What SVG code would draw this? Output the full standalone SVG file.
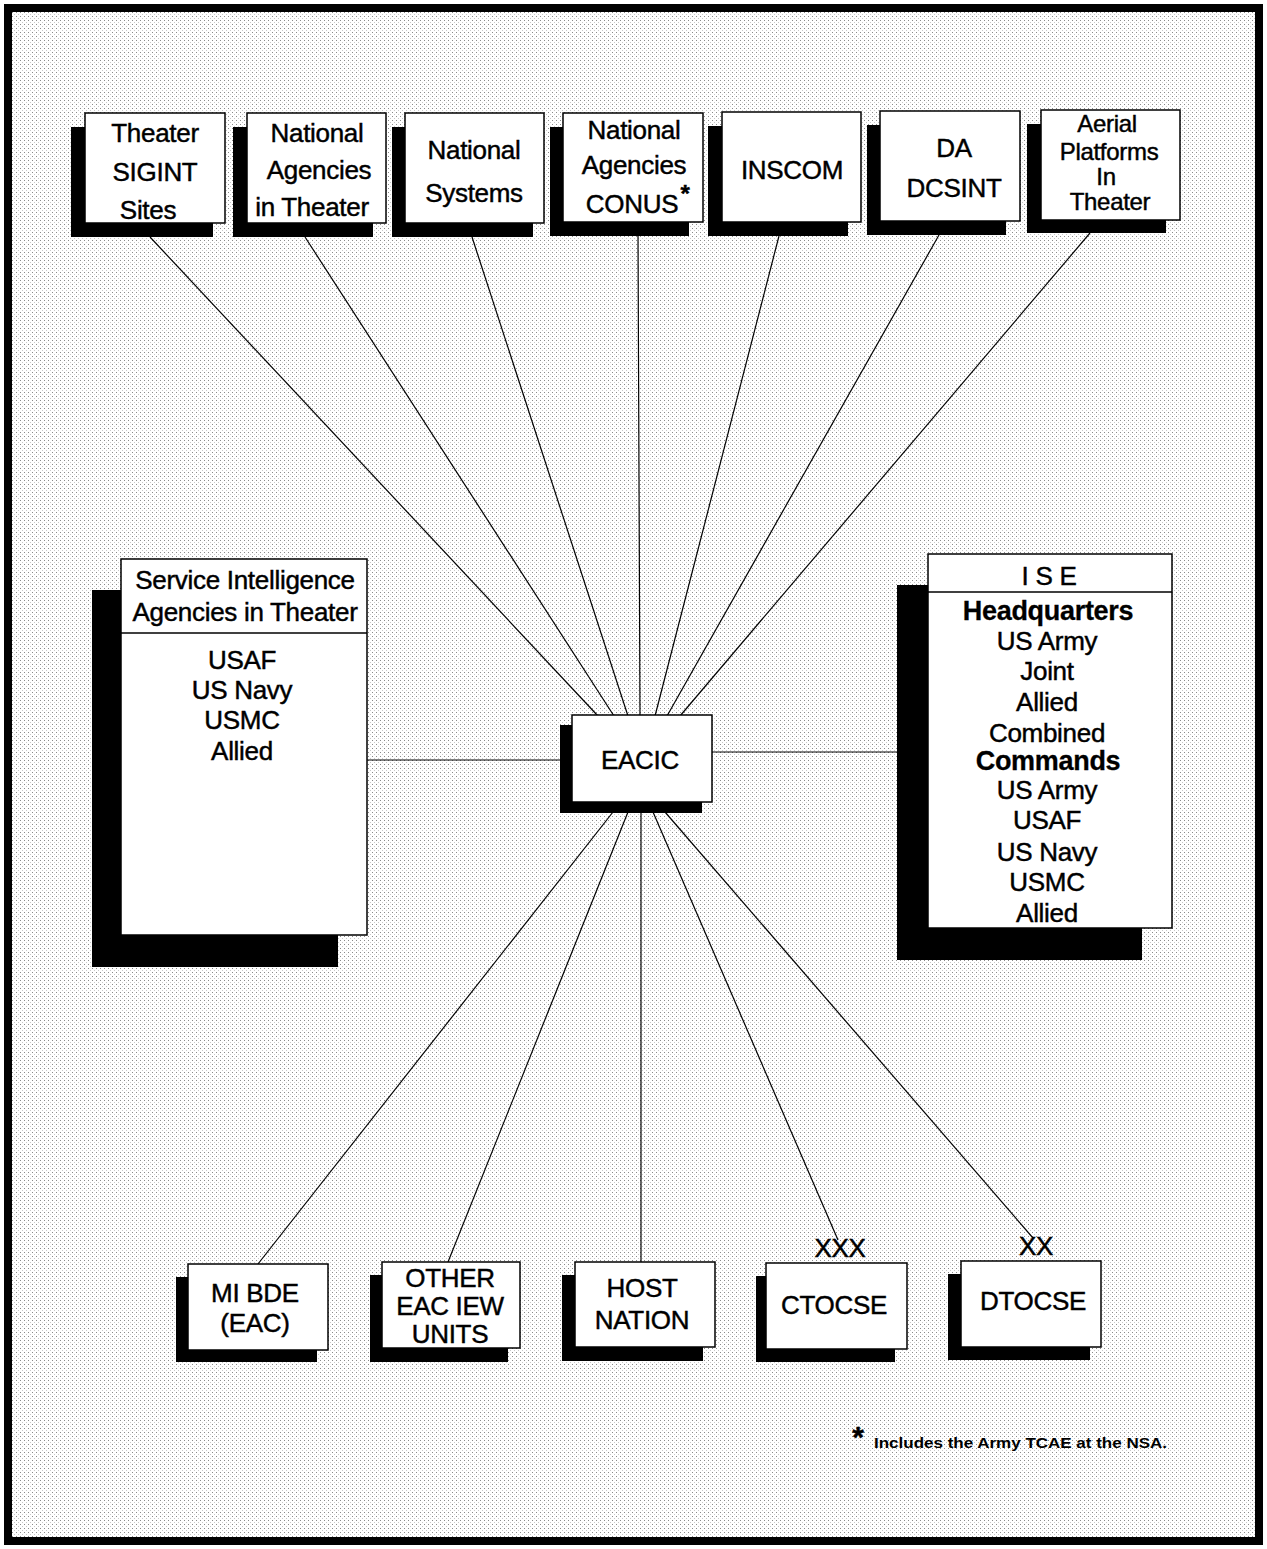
<svg xmlns="http://www.w3.org/2000/svg" width="1267" height="1549" viewBox="0 0 1267 1549">
<defs>
<pattern id="dots" width="4" height="4" patternUnits="userSpaceOnUse">
<rect width="4" height="4" fill="#ffffff"/>
<rect x="0" y="0" width="1" height="1" fill="#8a8a8a"/>
<rect x="2" y="2" width="1" height="1" fill="#c8c8c8"/>
</pattern>
</defs>
<style>
.sh{fill:#000}
.bx{fill:#fff;stroke:#000;stroke-width:1.5}
.t{font-family:"Liberation Sans",Arial,Helvetica,sans-serif;font-size:26px;fill:#000;stroke:#000;stroke-width:0.45;text-anchor:middle;letter-spacing:-0.3px}
.b{font-weight:bold;font-size:27px;stroke-width:0.3}
.a{font-size:24px}
.c line{stroke:#000;stroke-width:1.2}
</style>
<rect x="0" y="0" width="1267" height="1549" fill="#fff"/>
<rect x="8" y="8" width="1251" height="1533" fill="url(#dots)" stroke="#000" stroke-width="8"/>

<g id="connectors" class="c">
<line x1="150" y1="237" x2="598" y2="716"/>
<line x1="305" y1="237" x2="614" y2="716"/>
<line x1="472" y1="237" x2="628" y2="716"/>
<line x1="638" y1="236" x2="640" y2="716"/>
<line x1="779" y1="236" x2="655" y2="716"/>
<line x1="939" y1="235" x2="667" y2="716"/>
<line x1="1090" y1="233" x2="680" y2="716"/>
<line x1="367" y1="760" x2="562" y2="760"/>
<line x1="712" y1="752" x2="898" y2="752"/>
<line x1="258" y1="1264" x2="613" y2="812"/>
<line x1="448" y1="1262" x2="628" y2="812"/>
<line x1="641" y1="1262" x2="641" y2="812"/>
<line x1="838" y1="1240" x2="653" y2="812"/>
<line x1="1033" y1="1238" x2="665" y2="812"/>
</g>

<g id="theater-sigint">
<rect class="sh" x="71" y="127" width="142" height="110"/>
<rect class="bx" x="85" y="113" width="140" height="110"/>
<text class="t" x="155" y="142">Theater</text>
<text class="t" x="155" y="181">SIGINT</text>
<text class="t" x="148" y="219">Sites</text>
</g>
<g id="national-agencies-theater">
<rect class="sh" x="233" y="127" width="140" height="110"/>
<rect class="bx" x="247" y="113" width="139" height="110"/>
<text class="t" x="317" y="142">National</text>
<text class="t" x="319" y="179">Agencies</text>
<text class="t" x="312" y="216">in Theater</text>
</g>
<g id="national-systems">
<rect class="sh" x="392" y="127" width="141" height="110"/>
<rect class="bx" x="405" y="113" width="139" height="110"/>
<text class="t" x="474" y="159">National</text>
<text class="t" x="474" y="202">Systems</text>
</g>
<g id="national-agencies-conus">
<rect class="sh" x="550" y="127" width="139" height="109"/>
<rect class="bx" x="563" y="113" width="140" height="109"/>
<text class="t" x="634" y="139">National</text>
<text class="t" x="634" y="174">Agencies</text>
<text class="t" x="632" y="213">CONUS</text>
<text class="t" x="685" y="202" style="font-size:24px;font-weight:bold">*</text>
</g>
<g id="inscom">
<rect class="sh" x="708" y="126" width="140" height="110"/>
<rect class="bx" x="722" y="112" width="139" height="110"/>
<text class="t" x="792" y="179">INSCOM</text>
</g>
<g id="da-dcsint">
<rect class="sh" x="867" y="125" width="139" height="110"/>
<rect class="bx" x="880" y="111" width="140" height="110"/>
<text class="t" x="954" y="157">DA</text>
<text class="t" x="954" y="197">DCSINT</text>
</g>
<g id="aerial-platforms">
<rect class="sh" x="1027" y="124" width="139" height="109"/>
<rect class="bx" x="1041" y="110" width="139" height="110"/>
<text class="t a" x="1107" y="132">Aerial</text>
<text class="t a" x="1109" y="160">Platforms</text>
<text class="t a" x="1106" y="185">In</text>
<text class="t a" x="1110" y="210">Theater</text>
</g>

<g id="service-intelligence">
<rect class="sh" x="92" y="590" width="246" height="377"/>
<rect class="bx" x="121" y="559" width="246" height="376"/>
<line x1="121" y1="633" x2="367" y2="633" stroke="#000" stroke-width="1.5"/>
<text class="t" x="245" y="589">Service Intelligence</text>
<text class="t" x="245" y="621">Agencies in Theater</text>
<text class="t" x="242" y="669">USAF</text>
<text class="t" x="242" y="699">US Navy</text>
<text class="t" x="242" y="729">USMC</text>
<text class="t" x="242" y="760">Allied</text>
</g>

<g id="ise">
<rect class="sh" x="897" y="585" width="245" height="375"/>
<rect class="bx" x="928" y="554" width="244" height="374"/>
<line x1="928" y1="592" x2="1172" y2="592" stroke="#000" stroke-width="1.5"/>
<text class="t" x="1049" y="585">I S E</text>
<text class="t b" x="1048" y="620">Headquarters</text>
<text class="t" x="1047" y="650">US Army</text>
<text class="t" x="1047" y="680">Joint</text>
<text class="t" x="1047" y="711">Allied</text>
<text class="t" x="1047" y="742">Combined</text>
<text class="t b" x="1048" y="770">Commands</text>
<text class="t" x="1047" y="799">US Army</text>
<text class="t" x="1047" y="829">USAF</text>
<text class="t" x="1047" y="861">US Navy</text>
<text class="t" x="1047" y="891">USMC</text>
<text class="t" x="1047" y="922">Allied</text>
</g>

<g id="eacic">
<rect class="sh" x="560" y="725" width="142" height="88"/>
<rect class="bx" x="572" y="715" width="140" height="87"/>
<text class="t" x="640" y="769">EACIC</text>
</g>

<g id="mi-bde">
<rect class="sh" x="176" y="1277" width="141" height="85"/>
<rect class="bx" x="188" y="1264" width="140" height="86"/>
<text class="t" x="255" y="1302">MI BDE</text>
<text class="t" x="255" y="1332">(EAC)</text>
</g>
<g id="other-eac-iew">
<rect class="sh" x="370" y="1275" width="138" height="87"/>
<rect class="bx" x="382" y="1262" width="138" height="86"/>
<text class="t" x="450" y="1287">OTHER</text>
<text class="t" x="450" y="1315">EAC IEW</text>
<text class="t" x="450" y="1343">UNITS</text>
</g>
<g id="host-nation">
<rect class="sh" x="562" y="1275" width="141" height="86"/>
<rect class="bx" x="575" y="1262" width="140" height="85"/>
<text class="t" x="642" y="1297">HOST</text>
<text class="t" x="642" y="1329">NATION</text>
</g>
<g id="ctocse">
<rect class="sh" x="756" y="1276" width="139" height="86"/>
<rect class="bx" x="766" y="1263" width="141" height="86"/>
<text class="t" x="834" y="1314">CTOCSE</text>
<text class="t" x="840" y="1257">XXX</text>
</g>
<g id="dtocse">
<rect class="sh" x="948" y="1274" width="142" height="86"/>
<rect class="bx" x="961" y="1261" width="140" height="86"/>
<text class="t" x="1033" y="1310">DTOCSE</text>
<text class="t" x="1036" y="1255">XX</text>
</g>

<g id="footnote">
<text class="t" x="858" y="1447" style="font-size:30px;font-weight:bold">*</text>
<text x="874" y="1448" textLength="293" lengthAdjust="spacingAndGlyphs" style="font-family:'Liberation Sans',Arial,sans-serif;font-size:15px;font-weight:bold;fill:#000">Includes the Army TCAE at the NSA.</text>
</g>
</svg>
